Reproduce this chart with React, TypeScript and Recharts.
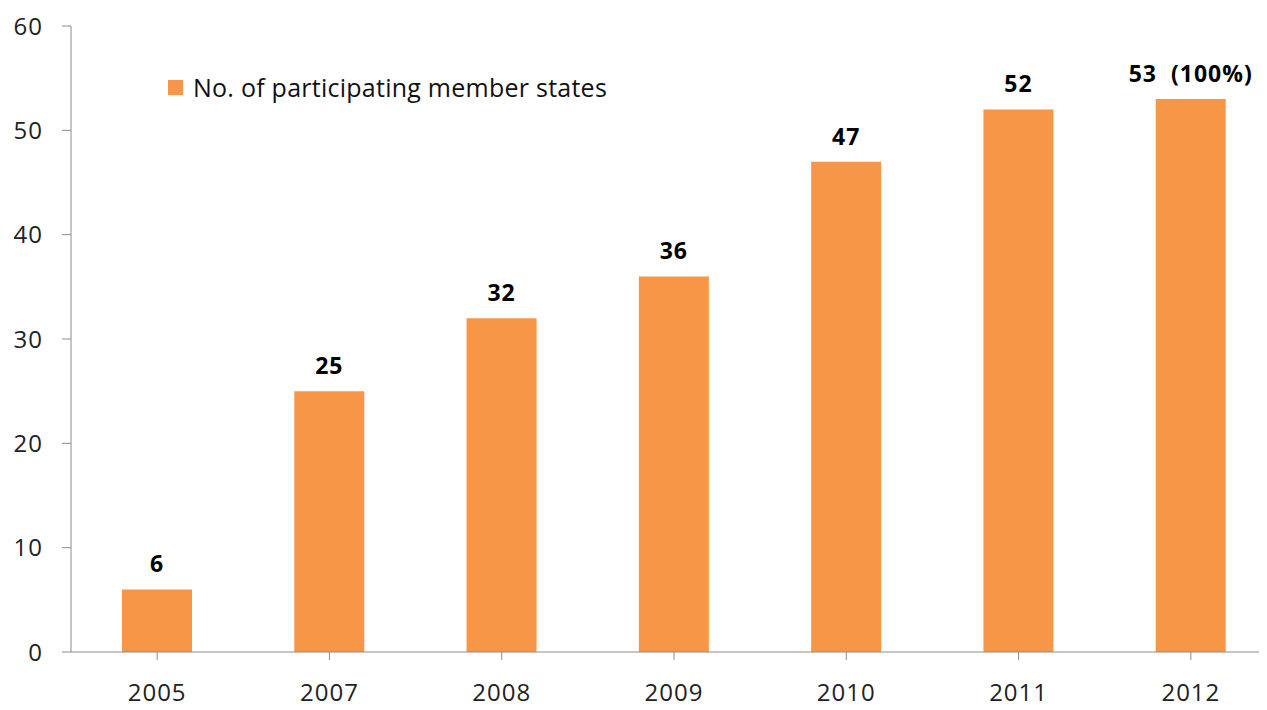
import React from "react";
import { BarChart, Bar, XAxis, YAxis, LabelList } from "recharts";

const years = ["2005", "2007", "2008", "2009", "2010", "2011", "2012"];
const members = [6, 25, 32, 36, 47, 52, 53];
const labelTexts = ["6", "25", "32", "36", "47", "52", "53  (100%)"];
const yTicks = [0, 10, 20, 30, 40, 50, 60];
const legendText = "No. of participating member states";

const data = years.map((y, i) => ({ year: y, value: members[i], label: labelTexts[i] }));

const FONT = "'Open Sans', sans-serif";
const ORANGE = "#F79646";
const AXIS = "#8c8c8c";

const BarLabel = (props: any) => {
  const { x, y, width, value } = props;
  return (
    <text
      x={x + width / 2}
      y={y - 17}
      textAnchor="middle"
      fill="#000"
      fontSize={23}
      fontWeight={700}
      fontFamily={FONT}
      letterSpacing={1}
      style={{ whiteSpace: "pre" }}
    >
      {value}
    </text>
  );
};

const XTick = (props: any) => {
  const { x, y, payload } = props;
  return (
    <text
      x={x}
      y={y + 39}
      textAnchor="middle"
      fill="#222"
      fontSize={24}
      fontFamily={FONT}
      letterSpacing={1}
    >
      {payload.value}
    </text>
  );
};

export default function App() {
  return (
    <div style={{ position: "relative", width: 1267, height: 710, overflow: "hidden", margin: -8, background: "#fff" }}>
      <BarChart
        width={1277}
        height={710}
        data={data}
        margin={{ top: 26, right: 0, bottom: 0, left: 0 }}
        barSize={70}
      >
        <XAxis
          dataKey="year"
          height={58}
          stroke={AXIS}
          tickLine={{ stroke: AXIS }}
          tickSize={8}
          interval={0}
          tick={XTick}
        />
        <YAxis
          width={71}
          domain={[0, 60]}
          ticks={yTicks}
          stroke={AXIS}
          tickSize={9}
          tick={{ fill: "#222", fontSize: 24, fontFamily: FONT, letterSpacing: 1 }}
          tickMargin={19}
          interval={0}
        />
        <Bar dataKey="value" fill={ORANGE} isAnimationActive={false}>
          <LabelList dataKey="label" content={BarLabel} />
        </Bar>
      </BarChart>
      <div
        style={{
          position: "absolute",
          top: 70,
          left: 168,
          display: "flex",
          alignItems: "center",
          fontFamily: FONT,
          fontSize: 25,
          letterSpacing: 0.25,
          color: "#111",
          whiteSpace: "nowrap",
        }}
      >
        <span style={{ display: "inline-block", width: 15, height: 15, background: ORANGE, marginRight: 10 }} />
        <span>{legendText}</span>
      </div>
    </div>
  );
}
